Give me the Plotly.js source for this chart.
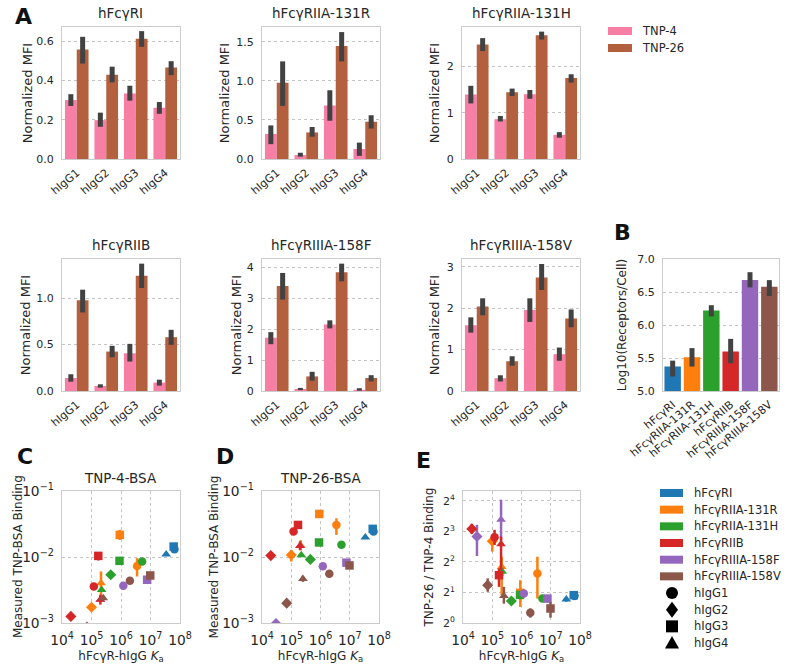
<!DOCTYPE html>
<html><head><meta charset="utf-8">
<script src="https://cdn.plot.ly/plotly-3.0.1.min.js"></script>
<style>html,body{margin:0;padding:0;background:#fff}#chart{width:787px;height:667px}</style>
</head><body><div id="chart"></div>
<script>
// ---------------- DATA ----------------
const IGG = ['hIgG1', 'hIgG2', 'hIgG3', 'hIgG4'];
const RECEPTORS = ['hFcγRI', 'hFcγRIIA-131R', 'hFcγRIIA-131H', 'hFcγRIIB', 'hFcγRIIIA-158F', 'hFcγRIIIA-158V'];
const SERIES = ['TNP-4', 'TNP-26'];

// Panel A: normalized MFI, [receptor][IgG]
const TNP4_MEAN = [[0.30,0.198,0.334,0.261],[0.32,0.05,0.685,0.128],[1.39,0.86,1.40,0.52],[0.14,0.054,0.406,0.09],[1.72,0.065,2.145,0.04],[1.59,0.31,1.955,0.89]];
const TNP4_LO   = [[0.27,0.164,0.297,0.23],[0.19,0.03,0.49,0.04],[1.20,0.81,1.30,0.46],[0.10,0.036,0.317,0.058],[1.51,0.03,2.02,0.01],[1.41,0.23,1.67,0.73]];
const TNP4_HI   = [[0.33,0.236,0.373,0.29],[0.43,0.08,0.88,0.21],[1.58,0.93,1.49,0.58],[0.18,0.072,0.507,0.122],[1.90,0.10,2.28,0.09],[1.78,0.38,2.24,1.05]];
const TNP26_MEAN = [[0.558,0.429,0.612,0.466],[0.975,0.34,1.447,0.477],[2.47,1.44,2.67,1.75],[0.975,0.424,1.241,0.579],[3.39,0.47,3.83,0.42],[2.04,0.72,2.74,1.75]];
const TNP26_LO   = [[0.486,0.39,0.571,0.427],[0.68,0.285,1.25,0.39],[2.33,1.36,2.58,1.65],[0.845,0.363,1.108,0.496],[2.95,0.33,3.54,0.31],[1.83,0.61,2.44,1.54]];
const TNP26_HI   = [[0.622,0.47,0.651,0.498],[1.25,0.41,1.625,0.56],[2.61,1.52,2.75,1.83],[1.09,0.486,1.37,0.658],[3.81,0.62,4.11,0.51],[2.24,0.84,3.07,1.97]];
// Panel A tick labels
const A_YTICKS = [[0,0.2,0.4,0.6],[0,0.5,1,1.5],[0,1,2],[0,0.5,1],[0,1,2,3,4],[0,1,2,3]];
const A_YTICKTEXT = [['0.0','0.2','0.4','0.6'],['0.0','0.5','1.0','1.5'],['0','1','2'],['0.0','0.5','1.0'],['0','1','2','3','4'],['0','1','2','3']];

// Panel B: log10 receptors per cell
const RECEPTOR_LOG = [5.37, 5.51, 6.22, 5.60, 6.68, 6.58];
const RECEPTOR_LOG_LO = [5.22, 5.37, 6.13, 5.42, 6.57, 6.44];
const RECEPTOR_LOG_HI = [5.46, 5.65, 6.30, 5.79, 6.80, 6.68];
const B_YTICKS = [5, 5.5, 6, 6.5, 7];
const B_YTICKTEXT = ['5.0', '5.5', '6.0', '6.5', '7.0'];

// Panels C-E: affinity Ka [receptor][IgG]
const KA = [[6.5e7,null,6.1e7,3.4e7],[3.5e6,1.0e5,9.1e5,2.1e5],[5.2e6,4.5e5,8.9e5,2.2e5],[1.2e5,2.0e4,1.7e5,2.0e5],[1.2e6,3.0e4,7.7e6,2.0e5],[2.0e6,7.0e4,9.8e6,2.5e5]];
// C: TNP-4-BSA binding
const C_Y  = [[0.0131,null,0.0144,0.0110],[0.0073,0.00173,0.0216,0.00403],[0.00855,0.00537,0.00875,0.00319],[0.00358,0.00126,0.0104,0.00226],[0.00366,0.00014,0.00452,0.00226],[0.00436,0.00087,0.00525,0.00239]];
const C_LO = [[0.0124,null,0.0136,0.0104],[0.00507,0.00155,0.01816,0.00253],[0.0080,0.0050,0.0083,0.0030],[0.0032,0.00118,0.00885,0.0019],[0.0034,0.00012,0.0043,0.0021],[0.0041,0.0008,0.0050,0.0022]];
const C_HI = [[0.0138,null,0.0152,0.0116],[0.0096,0.0019,0.02576,0.00604],[0.0091,0.0058,0.0092,0.0034],[0.0040,0.00135,0.0117,0.00269],[0.0039,0.00016,0.0048,0.0025],[0.0046,0.00095,0.0055,0.0026]];
// D: TNP-26-BSA binding
const D_Y  = [[0.0243,null,0.0267,0.0199],[0.0306,0.0107,0.0449,0.0150],[0.0153,0.0092,0.0166,0.0107],[0.0243,0.0105,0.0306,0.0147],[0.00725,0.00098,0.0082,0.0147],[0.00557,0.0020,0.00745,0.00468]];
const D_LO = [[0.0232,null,0.0255,0.0190],[0.0216,0.00855,0.0420,0.0125],[0.0145,0.0086,0.0157,0.0101],[0.0220,0.0098,0.0285,0.0128],[0.0068,0.0009,0.0078,0.013],[0.0052,0.0018,0.0070,0.0042]];
const D_HI = [[0.0255,null,0.0280,0.0209],[0.0386,0.0128,0.0480,0.0180],[0.0161,0.0098,0.0175,0.0113],[0.0268,0.0113,0.0330,0.0172],[0.0077,0.00107,0.0087,0.0165],[0.0060,0.0022,0.0080,0.0052]];
// E: TNP-26 / TNP-4 ratio
const E_Y  = [[1.85,null,1.88,1.71],[3.08,6.4,1.98,3.58],[1.74,1.65,1.89,3.2],[7.0,8.45,2.96,5.97],[1.95,7.1,1.74,10.4],[1.26,2.36,1.39,1.85]];
const E_LO = [[1.68,null,1.70,1.62],[1.74,5.04,1.44,1.88],[1.62,1.55,1.78,2.9],[5.87,7.55,2.27,3.32],[1.8,4.57,1.62,6.58],[1.13,2.03,1.13,1.55]];
const E_HI = [[2.03,null,2.05,1.80],[4.5,7.1,2.64,4.5],[1.87,1.75,2.0,3.5],[8.27,9.47,3.45,7.1],[2.1,9.26,1.87,16.4],[1.39,2.75,1.61,2.27]];
const E_YTICKS = [1, 2, 4, 8, 16];
const E_YTICKTEXT = ['2<sup>0</sup>', '2<sup>1</sup>', '2<sup>2</sup>', '2<sup>3</sup>', '2<sup>4</sup>'];

// ---------------- STYLE ----------------
const W = 787, H = 667;
const FONT = 'DejaVu Sans';
const TXT = '#262626';
const PINK = '#f77fa6', BROWN = '#b4603f', ERR = '#424242';
const RCOL = ['#1f77b4','#ff7f0e','#2ca02c','#d62728','#9467bd','#8c564b'];
const SYMS = ['circle','diamond','square','triangle-up'];
const DRAW_ORDER = [0,1,2,4,3,5];

const PX = v => v / W, PY = v => 1 - v / H;
const dx = (l, r) => [l / W, r / W];
const dy = (t, b) => [1 - b / H, 1 - t / H];
const up = (m, hi) => m.map((v, i) => (v == null || hi[i] == null) ? 0 : hi[i] - v);
const dn = (m, lo) => m.map((v, i) => (v == null || lo[i] == null) ? 0 : v - lo[i]);
const fnt = (s, c) => ({family: FONT, size: s, color: c || TXT});

function ax(extra) {
  return Object.assign({showline: true, mirror: true, linecolor: '#cccccc', linewidth: 1,
    ticks: 'outside', ticklen: 5, tickwidth: 1, tickcolor: 'rgba(255,255,255,0)',
    zeroline: false, tickfont: fnt(11), gridcolor: '#c4c4c4', griddash: 'dot', gridwidth: 1,
    fixedrange: true}, extra);
}

const traces = [];
const layout = {width: W, height: H, margin: {l: 0, r: 0, t: 0, b: 0}, paper_bgcolor: '#fff',
  plot_bgcolor: '#fff', barmode: 'group', bargap: 0.2, bargroupgap: 0,
  font: fnt(12), showlegend: false, annotations: [], shapes: []};

// Panel A geometry
const A_LEFT = [62, 262, 462, 62, 262, 462];
const A_TOP = [27, 27, 27, 259, 259, 259];
const A_RANGE = [0.672, 1.69, 2.85, 1.42, 4.26, 3.19];
const A_STANDOFF = [0, 3, 4, 2, 2, 4];

for (let r = 0; r < 6; r++) {
  const n = r + 1;
  const xa = 'x' + (n === 1 ? '' : n), ya = 'y' + (n === 1 ? '' : n);
  traces.push({type: 'bar', x: IGG, y: TNP4_MEAN[r], name: SERIES[0], xaxis: xa, yaxis: ya,
    offsetgroup: 'a', marker: {color: PINK, line: {width: 0}}, hoverinfo: 'skip',
    error_y: {type: 'data', symmetric: false, array: up(TNP4_MEAN[r], TNP4_HI[r]),
      arrayminus: dn(TNP4_MEAN[r], TNP4_LO[r]), color: ERR, thickness: 5, width: 0}});
  traces.push({type: 'bar', x: IGG, y: TNP26_MEAN[r], name: SERIES[1], xaxis: xa, yaxis: ya,
    offsetgroup: 'b', marker: {color: BROWN, line: {width: 0}}, hoverinfo: 'skip',
    error_y: {type: 'data', symmetric: false, array: up(TNP26_MEAN[r], TNP26_HI[r]),
      arrayminus: dn(TNP26_MEAN[r], TNP26_LO[r]), color: ERR, thickness: 5, width: 0}});
  const L = A_LEFT[r], T = A_TOP[r];
  layout['xaxis' + n] = ax({domain: dx(L, L + 118), anchor: ya, type: 'category',
    tickmode: 'array', tickvals: IGG, ticktext: IGG,
    showgrid: false, tickangle: -40, ticklen: 2});
  layout['yaxis' + n] = ax({domain: dy(T, T + 132), anchor: xa, range: [0, A_RANGE[r]],
    tickmode: 'array', tickvals: A_YTICKS[r], ticktext: A_YTICKTEXT[r], showgrid: true,
    title: {text: 'Normalized MFI', font: fnt(13), standoff: A_STANDOFF[r]}});
  layout.annotations.push({text: RECEPTORS[r], x: PX(L + 59), y: PY(T - 14), xref: 'paper', yref: 'paper',
    showarrow: false, xanchor: 'center', yanchor: 'middle', font: fnt(13.5)});
}

// Panel B
traces.push({type: 'bar', x: RECEPTORS, y: RECEPTOR_LOG, xaxis: 'x7', yaxis: 'y7', width: 0.85,
  marker: {color: RCOL, line: {width: 0}}, hoverinfo: 'skip',
  error_y: {type: 'data', symmetric: false, array: up(RECEPTOR_LOG, RECEPTOR_LOG_HI),
    arrayminus: dn(RECEPTOR_LOG, RECEPTOR_LOG_LO), color: ERR, thickness: 5, width: 0}});
layout.xaxis7 = ax({domain: dx(663, 779), anchor: 'y7', type: 'category',
  tickmode: 'array', tickvals: RECEPTORS, ticktext: RECEPTORS,
  showgrid: false, tickangle: -40, ticklen: 2});
layout.yaxis7 = ax({domain: dy(259, 391), anchor: 'x7', range: [5, 7],
  tickmode: 'array', tickvals: B_YTICKS, ticktext: B_YTICKTEXT, showgrid: true,
  title: {text: 'Log10(Receptors/Cell)', font: fnt(12), standoff: 8}});

// Panels C, D, E
const SC = [
  {n: 8, L: 62, R: 180, Y: C_Y, LO: C_LO, HI: C_HI, title: 'TNP-4-BSA', ytitle: 'Measured TNP-BSA Binding', so: 0, yt: 18},
  {n: 9, L: 262, R: 379, Y: D_Y, LO: D_LO, HI: D_HI, title: 'TNP-26-BSA', ytitle: 'Measured TNP-BSA Binding', so: 0, yt: null},
  {n: 10, L: 463, R: 580, Y: E_Y, LO: E_LO, HI: E_HI, title: null, ytitle: 'TNP-26 / TNP-4 Binding', so: 6, yt: null}
];
SC.forEach((p, k) => {
  const xa = 'x' + p.n, ya = 'y' + p.n;
  DRAW_ORDER.forEach(r => {
    traces.push({type: 'scatter', mode: 'markers', x: KA[r], y: p.Y[r], xaxis: xa, yaxis: ya,
      name: RECEPTORS[r], hoverinfo: 'skip',
      marker: {color: RCOL[r], symbol: SYMS, size: 8.5, line: {width: 0}},
      error_y: {type: 'data', symmetric: false, array: up(p.Y[r], p.HI[r]), arrayminus: dn(p.Y[r], p.LO[r]),
        color: RCOL[r], thickness: 2.5, width: 0}});
  });
  layout['xaxis' + p.n] = ax({domain: dx(p.L, p.R), anchor: ya, type: 'log',
    range: [4, 8], dtick: 1, exponentformat: 'power', showgrid: true,
    title: {text: 'hFcγR-hIgG <i>K</i><sub>a</sub>', font: fnt(12), standoff: 4}});
  const yax = ax({domain: dy(491, 623), anchor: xa, type: 'log', showgrid: true});
  if (p.yt == null) yax.title = {text: p.ytitle, font: fnt(12), standoff: p.so};
  else layout.annotations.push({text: p.ytitle, textangle: -90, x: PX(p.yt), y: PY(557), xref: 'paper', yref: 'paper',
    showarrow: false, xanchor: 'center', yanchor: 'middle', font: fnt(12)});
  if (k < 2) { yax.range = [-3, -1]; yax.dtick = 1; yax.exponentformat = 'power'; }
  else { yax.range = [0, 1.30]; yax.tickmode = 'array'; yax.tickvals = E_YTICKS; yax.ticktext = E_YTICKTEXT; }
  layout['yaxis' + p.n] = yax;
  if (p.title) layout.annotations.push({text: p.title, x: PX((p.L + p.R) / 2), y: PY(478), xref: 'paper',
    yref: 'paper', showarrow: false, xanchor: 'center', yanchor: 'middle', font: fnt(13.5)});
});

// ---------------- LEGENDS (key swatches + text) ----------------
function keyLabel(text, x, yc) {
  layout.annotations.push({text: text, x: PX(x), y: PY(yc), xref: 'paper', yref: 'paper', showarrow: false,
    xanchor: 'left', yanchor: 'middle', font: fnt(11.5)});
}
function keyPatch(x0, x1, yc, color) {
  layout.shapes.push({type: 'rect', xref: 'paper', yref: 'paper', x0: PX(x0), x1: PX(x1),
    y0: PY(yc + 4), y1: PY(yc - 4), fillcolor: color, line: {width: 0}});
}
function keyMarker(sym, xc, yc) {
  const s = {xref: 'paper', yref: 'paper', fillcolor: '#000', line: {width: 0}};
  const P = (x, y) => PX(x).toFixed(5) + ',' + PY(y).toFixed(5);
  if (sym === 'circle') Object.assign(s, {type: 'circle', x0: PX(xc - 6), x1: PX(xc + 6), y0: PY(yc + 6), y1: PY(yc - 6)});
  else if (sym === 'square') Object.assign(s, {type: 'rect', x0: PX(xc - 6), x1: PX(xc + 6), y0: PY(yc + 6), y1: PY(yc - 6)});
  else if (sym === 'diamond') Object.assign(s, {type: 'path',
    path: 'M' + P(xc, yc - 8) + 'L' + P(xc + 6, yc) + 'L' + P(xc, yc + 8) + 'L' + P(xc - 6, yc) + 'Z'});
  else Object.assign(s, {type: 'path',
    path: 'M' + P(xc, yc - 7) + 'L' + P(xc + 7, yc + 5.5) + 'L' + P(xc - 7, yc + 5.5) + 'Z'});
  layout.shapes.push(s);
}
SERIES.forEach((s, i) => { const yc = 31 + i * 17; keyPatch(608, 632, yc, i === 0 ? PINK : BROWN); keyLabel(s, 640, yc); });
RECEPTORS.forEach((s, i) => { const yc = 493 + i * 16.67; keyPatch(660, 683, yc, RCOL[i]); keyLabel(s, 692, yc); });
IGG.forEach((s, i) => { const yc = 493 + (6 + i) * 16.67; keyMarker(SYMS[i], 672, yc); keyLabel(s, 692, yc); });

// Panel letters
[['A', 23, 17], ['B', 622, 233], ['C', 25, 456], ['D', 225, 456], ['E', 423, 460]].forEach(([t, x, y]) =>
  layout.annotations.push({text: '<b>' + t + '</b>', x: PX(x), y: PY(y), xref: 'paper', yref: 'paper',
    showarrow: false, xanchor: 'center', yanchor: 'middle', font: fnt(22, '#111')}));

Plotly.newPlot('chart', traces, layout, {staticPlot: true, displayModeBar: false});
</script></body></html>
